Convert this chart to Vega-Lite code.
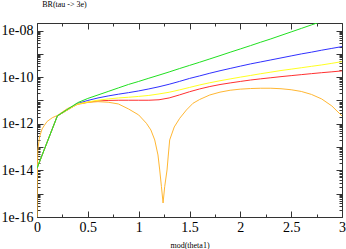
{
  "$schema": "https://vega.github.io/schema/vega-lite/v6.json",
  "autosize": "none",
  "width": 305,
  "height": 194,
  "padding": {"left": 37, "top": 23, "right": 4, "bottom": 32},
  "background": "white",
  "config": {
    "view": {"stroke": "#333333", "strokeWidth": 1},
    "font": "Liberation Serif",
    "axis": {"domain": false, "grid": false, "tickColor": "#333333", "tickWidth": 1, "labelFont": "Liberation Serif", "labelFontSize": 14, "labelColor": "black", "titleFont": "Liberation Serif", "titleFontWeight": "normal", "titleFontSize": 8, "titleColor": "black", "labelOverlap": false, "labelFlush": false}
  },
  "data": {"values": [
    {"s":"1red","x":0,"y":1.23e-14},{"s":"1red","x":0.2,"y":2.16e-12},{"s":"1red","x":0.4,"y":7.08e-12},{"s":"1red","x":0.5,"y":8.38e-12},{"s":"1red","x":0.6,"y":9.53e-12},{"s":"1red","x":0.7,"y":1.0e-11},{"s":"1red","x":0.8,"y":1.02e-11},{"s":"1red","x":0.9,"y":1.02e-11},{"s":"1red","x":1.0,"y":1.02e-11},{"s":"1red","x":1.1,"y":1.02e-11},{"s":"1red","x":1.2,"y":1.07e-11},{"s":"1red","x":1.3,"y":1.28e-11},{"s":"1red","x":1.4,"y":1.72e-11},{"s":"1red","x":1.5,"y":2.36e-11},{"s":"1red","x":1.6,"y":3.12e-11},{"s":"1red","x":1.7,"y":3.95e-11},{"s":"1red","x":1.8,"y":4.81e-11},{"s":"1red","x":1.9,"y":5.64e-11},{"s":"1red","x":2.0,"y":6.53e-11},{"s":"1red","x":2.1,"y":7.52e-11},{"s":"1red","x":2.2,"y":8.45e-11},{"s":"1red","x":2.3,"y":9.42e-11},{"s":"1red","x":2.4,"y":1.05e-10},{"s":"1red","x":2.5,"y":1.16e-10},{"s":"1red","x":2.6,"y":1.28e-10},{"s":"1red","x":2.7,"y":1.41e-10},{"s":"1red","x":2.8,"y":1.55e-10},{"s":"1red","x":2.9,"y":1.69e-10},{"s":"1red","x":3.0,"y":1.85e-10},
    {"s":"2orange","x":0,"y":1e-18},{"s":"2orange","x":0.002,"y":2.36e-15},{"s":"2orange","x":0.008,"y":7.52e-14},{"s":"2orange","x":0.025,"y":2.71e-13},{"s":"2orange","x":0.05,"y":5.98e-13},{"s":"2orange","x":0.075,"y":8.87e-13},{"s":"2orange","x":0.1,"y":1.26e-12},{"s":"2orange","x":0.15,"y":1.81e-12},{"s":"2orange","x":0.2,"y":2.27e-12},{"s":"2orange","x":0.3,"y":4.54e-12},{"s":"2orange","x":0.4,"y":6.73e-12},{"s":"2orange","x":0.5,"y":8.2e-12},{"s":"2orange","x":0.6,"y":8.87e-12},{"s":"2orange","x":0.7,"y":8.38e-12},{"s":"2orange","x":0.8,"y":7.08e-12},{"s":"2orange","x":0.9,"y":4.32e-12},{"s":"2orange","x":1.0,"y":2.39e-12},{"s":"2orange","x":1.076,"y":1.05e-12},{"s":"2orange","x":1.12,"y":5.42e-13},{"s":"2orange","x":1.158,"y":2.02e-13},{"s":"2orange","x":1.19,"y":4.58e-14},{"s":"2orange","x":1.207,"y":1.04e-14},{"s":"2orange","x":1.224,"y":2.0e-15},{"s":"2orange","x":1.24,"y":3.99e-16},{"s":"2orange","x":1.256,"y":2.0e-15},{"s":"2orange","x":1.279,"y":1.04e-14},{"s":"2orange","x":1.29,"y":3.76e-14},{"s":"2orange","x":1.305,"y":2.02e-13},{"s":"2orange","x":1.35,"y":7.29e-13},{"s":"2orange","x":1.404,"y":1.72e-12},{"s":"2orange","x":1.47,"y":3.91e-12},{"s":"2orange","x":1.535,"y":7.59e-12},{"s":"2orange","x":1.6,"y":1.1e-11},{"s":"2orange","x":1.7,"y":1.72e-11},{"s":"2orange","x":1.8,"y":2.27e-11},{"s":"2orange","x":1.9,"y":2.74e-11},{"s":"2orange","x":2.0,"y":3.05e-11},{"s":"2orange","x":2.1,"y":3.24e-11},{"s":"2orange","x":2.2,"y":3.34e-11},{"s":"2orange","x":2.3,"y":3.34e-11},{"s":"2orange","x":2.4,"y":3.18e-11},{"s":"2orange","x":2.5,"y":2.88e-11},{"s":"2orange","x":2.6,"y":2.43e-11},{"s":"2orange","x":2.7,"y":1.81e-11},{"s":"2orange","x":2.8,"y":1.16e-11},{"s":"2orange","x":2.9,"y":5.81e-12},{"s":"2orange","x":3.0,"y":2.16e-12},
    {"s":"3blue","x":0,"y":1.23e-14},{"s":"3blue","x":0.2,"y":2.16e-12},{"s":"3blue","x":0.4,"y":7.43e-12},{"s":"3blue","x":0.5,"y":1.0e-11},{"s":"3blue","x":0.6,"y":1.28e-11},{"s":"3blue","x":0.7,"y":1.56e-11},{"s":"3blue","x":0.8,"y":1.85e-11},{"s":"3blue","x":0.9,"y":2.16e-11},{"s":"3blue","x":1.0,"y":2.56e-11},{"s":"3blue","x":1.1,"y":3.12e-11},{"s":"3blue","x":1.2,"y":3.87e-11},{"s":"3blue","x":1.3,"y":4.95e-11},{"s":"3blue","x":1.4,"y":6.53e-11},{"s":"3blue","x":1.5,"y":8.79e-11},{"s":"3blue","x":1.6,"y":1.13e-10},{"s":"3blue","x":1.7,"y":1.47e-10},{"s":"3blue","x":1.8,"y":1.88e-10},{"s":"3blue","x":1.9,"y":2.36e-10},{"s":"3blue","x":2.0,"y":2.96e-10},{"s":"3blue","x":2.1,"y":3.69e-10},{"s":"3blue","x":2.2,"y":4.49e-10},{"s":"3blue","x":2.3,"y":5.47e-10},{"s":"3blue","x":2.4,"y":6.67e-10},{"s":"3blue","x":2.5,"y":8.13e-10},{"s":"3blue","x":2.6,"y":9.91e-10},{"s":"3blue","x":2.7,"y":1.18e-9},{"s":"3blue","x":2.8,"y":1.43e-9},{"s":"3blue","x":2.9,"y":1.71e-9},{"s":"3blue","x":3.0,"y":2.04e-9},
    {"s":"4yellow","x":0,"y":1.23e-14},{"s":"4yellow","x":0.2,"y":2.16e-12},{"s":"4yellow","x":0.4,"y":7.08e-12},{"s":"4yellow","x":0.5,"y":8.63e-12},{"s":"4yellow","x":0.6,"y":1.02e-11},{"s":"4yellow","x":0.7,"y":1.16e-11},{"s":"4yellow","x":0.8,"y":1.28e-11},{"s":"4yellow","x":0.9,"y":1.37e-11},{"s":"4yellow","x":1.0,"y":1.49e-11},{"s":"4yellow","x":1.1,"y":1.64e-11},{"s":"4yellow","x":1.2,"y":1.9e-11},{"s":"4yellow","x":1.3,"y":2.25e-11},{"s":"4yellow","x":1.4,"y":2.82e-11},{"s":"4yellow","x":1.5,"y":3.61e-11},{"s":"4yellow","x":1.6,"y":4.62e-11},{"s":"4yellow","x":1.7,"y":5.75e-11},{"s":"4yellow","x":1.8,"y":7.0e-11},{"s":"4yellow","x":1.9,"y":8.38e-11},{"s":"4yellow","x":2.0,"y":1.0e-10},{"s":"4yellow","x":2.1,"y":1.18e-10},{"s":"4yellow","x":2.2,"y":1.4e-10},{"s":"4yellow","x":2.3,"y":1.64e-10},{"s":"4yellow","x":2.4,"y":1.92e-10},{"s":"4yellow","x":2.5,"y":2.2e-10},{"s":"4yellow","x":2.6,"y":2.53e-10},{"s":"4yellow","x":2.7,"y":2.91e-10},{"s":"4yellow","x":2.8,"y":3.34e-10},{"s":"4yellow","x":2.9,"y":3.91e-10},{"s":"4yellow","x":3.0,"y":4.62e-10},
    {"s":"5green","x":0,"y":1.23e-14},{"s":"5green","x":0.2,"y":2.16e-12},{"s":"5green","x":0.4,"y":8.05e-12},{"s":"5green","x":0.5,"y":1.22e-11},{"s":"5green","x":0.6,"y":1.72e-11},{"s":"5green","x":0.7,"y":2.43e-11},{"s":"5green","x":0.8,"y":3.44e-11},{"s":"5green","x":0.9,"y":4.86e-11},{"s":"5green","x":1.0,"y":6.53e-11},{"s":"5green","x":1.1,"y":8.97e-11},{"s":"5green","x":1.2,"y":1.22e-10},{"s":"5green","x":1.3,"y":1.67e-10},{"s":"5green","x":1.4,"y":2.32e-10},{"s":"5green","x":1.5,"y":3.18e-10},{"s":"5green","x":1.6,"y":4.36e-10},{"s":"5green","x":1.7,"y":6.04e-10},{"s":"5green","x":1.8,"y":8.38e-10},{"s":"5green","x":1.9,"y":1.17e-9},{"s":"5green","x":2.0,"y":1.62e-9},{"s":"5green","x":2.1,"y":2.25e-9},{"s":"5green","x":2.2,"y":3.15e-9},{"s":"5green","x":2.3,"y":4.36e-9},{"s":"5green","x":2.4,"y":6.17e-9},{"s":"5green","x":2.5,"y":8.71e-9},{"s":"5green","x":2.6,"y":1.23e-8},{"s":"5green","x":2.7,"y":1.74e-8},{"s":"5green","x":2.8,"y":2.46e-8},{"s":"5green","x":2.9,"y":3.48e-8},{"s":"5green","x":3.0,"y":4.91e-8}
  ]},
  "layer": [
    {
      "mark": {"type": "line", "clip": true, "strokeWidth": 1},
      "encoding": {
        "x": {"field": "x", "type": "quantitative",
          "scale": {"domain": [0, 3], "nice": false, "zero": false},
          "axis": {"orient": "bottom", "title": "mod(theta1)", "titleY": 28, "titleBaseline": "middle",
            "values": [0,0.25,0.5,0.75,1,1.25,1.5,1.75,2,2.25,2.5,2.75,3],
            "format": "~g",
            "labelExpr": "datum.value*2==round(datum.value*2)?datum.label:''",
            "labelPadding": 9,
            "tickSize": {"condition": {"test": "datum.value*2==round(datum.value*2)", "value": -6}, "value": -3}}},
        "y": {"field": "y", "type": "quantitative",
          "scale": {"type": "log", "domain": [1e-16, 2.1e-8], "nice": false},
          "axis": {"orient": "left", "title": "BR(tau -> 3e)", "titleAngle": 0, "titleX": 27, "titleY": -19, "titleAlign": "center", "titleBaseline": "middle",
            "values": [1e-16,2e-16,3e-16,4e-16,5e-16,6e-16,7e-16,8e-16,9e-16,1e-15,2e-15,3e-15,4e-15,5e-15,6e-15,7e-15,8e-15,9e-15,1e-14,2e-14,3e-14,4e-14,5e-14,6e-14,7e-14,8e-14,9e-14,1e-13,2e-13,3e-13,4e-13,5e-13,6e-13,7e-13,8e-13,9e-13,1e-12,2e-12,3e-12,4e-12,5e-12,6e-12,7e-12,8e-12,9e-12,1e-11,2e-11,3e-11,4e-11,5e-11,6e-11,7e-11,8e-11,9e-11,1e-10,2e-10,3e-10,4e-10,5e-10,6e-10,7e-10,8e-10,9e-10,1e-9,2e-9,3e-9,4e-9,5e-9,6e-9,7e-9,8e-9,9e-9,1e-8,2e-8],
            "labelExpr": "datum.value==1e-8?'1e-08':datum.value==1e-10?'1e-10':datum.value==1e-12?'1e-12':datum.value==1e-14?'1e-14':datum.value==1e-16?'1e-16':''",
            "labelPadding": 10,
            "tickSize": {"condition": {"test": "datum.value==1e-16||datum.value==1e-15||datum.value==1e-14||datum.value==1e-13||datum.value==1e-12||datum.value==1e-11||datum.value==1e-10||datum.value==1e-9||datum.value==1e-8", "value": -6}, "value": -3}}},
        "color": {"field": "s", "type": "nominal", "legend": null,
          "scale": {"domain": ["1red","2orange","3blue","4yellow","5green"], "range": ["#ff3030","#ffb733","#3030ff","#ffff20","#20e020"]}}
      }
    },
    {
      "mark": {"type": "line", "clip": true, "strokeOpacity": 0},
      "encoding": {
        "x": {"field": "x", "type": "quantitative",
          "axis": {"orient": "top", "title": null, "labels": false,
            "values": [0,0.25,0.5,0.75,1,1.25,1.5,1.75,2,2.25,2.5,2.75,3],
            "tickSize": {"condition": {"test": "datum.value*2==round(datum.value*2)", "value": -6}, "value": -3}}},
        "y": {"field": "y", "type": "quantitative",
          "axis": {"orient": "right", "title": null, "labels": false,
            "values": [1e-16,2e-16,3e-16,4e-16,5e-16,6e-16,7e-16,8e-16,9e-16,1e-15,2e-15,3e-15,4e-15,5e-15,6e-15,7e-15,8e-15,9e-15,1e-14,2e-14,3e-14,4e-14,5e-14,6e-14,7e-14,8e-14,9e-14,1e-13,2e-13,3e-13,4e-13,5e-13,6e-13,7e-13,8e-13,9e-13,1e-12,2e-12,3e-12,4e-12,5e-12,6e-12,7e-12,8e-12,9e-12,1e-11,2e-11,3e-11,4e-11,5e-11,6e-11,7e-11,8e-11,9e-11,1e-10,2e-10,3e-10,4e-10,5e-10,6e-10,7e-10,8e-10,9e-10,1e-9,2e-9,3e-9,4e-9,5e-9,6e-9,7e-9,8e-9,9e-9,1e-8,2e-8],
            "tickSize": {"condition": {"test": "datum.value==1e-16||datum.value==1e-15||datum.value==1e-14||datum.value==1e-13||datum.value==1e-12||datum.value==1e-11||datum.value==1e-10||datum.value==1e-9||datum.value==1e-8", "value": -6}, "value": -3}}},
        "detail": {"field": "s", "type": "nominal"}
      }
    }
  ],
  "resolve": {"axis": {"x": "independent", "y": "independent"}}
}
